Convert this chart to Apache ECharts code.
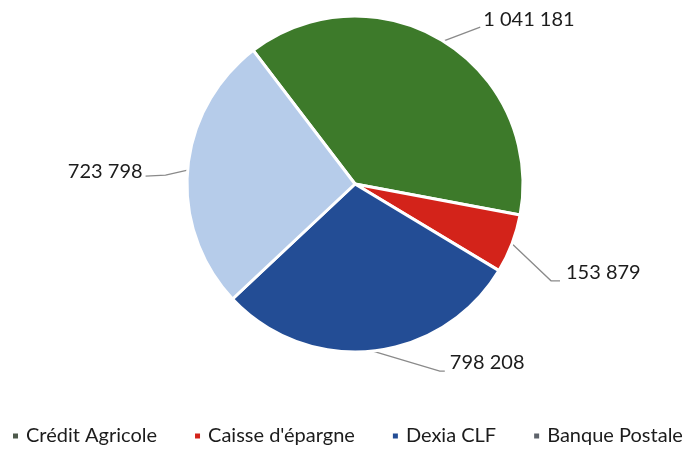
<!DOCTYPE html>
<html>
<head>
<meta charset="utf-8">
<script src="https://cdn.jsdelivr.net/npm/echarts@6/dist/echarts.min.js"></script>
<style>html,body{margin:0;padding:0;background:#fff}#c{width:684px;height:450px}</style>
</head>
<body>
<div id="c"></div>
<script>
const categories = ['Crédit Agricole', "Caisse d'épargne", 'Dexia CLF', 'Banque Postale'];
const values = [1041181, 153879, 798208, 723798];
const colors = ['#3D7A2A', '#D3231A', '#234D95', '#B6CCEA'];
const legendColors = ['#4E5A4C', '#D3231A', '#234D95', '#5E636B'];

// label placement offsets relative to the leader line start (style only)
const labelOffsets = [
  {line: [[37, -14]], text: [40, -21], align: 'left'},
  {line: [[39, 37], [48, 37]], text: [54, 29], align: 'left'},
  {line: [[67, 20], [72, 20]], text: [77, 11], align: 'left'},
  {line: [[-22, 5], [-42, 6]], text: [-45, 1], align: 'right'}
];

function fmt(v) { return String(v).replace(/\B(?=(\d{3})+(?!\d))/g, ' '); }

const chart = echarts.init(document.getElementById('c'));
chart.setOption({
  animation: false,
  color: colors,
  legend: {
    bottom: 4,
    left: 11,
    width: 684,
    padding: 0,
    icon: 'rect',
    itemWidth: 7,
    itemHeight: 7,
    itemGap: 36,
    textStyle: {fontFamily: 'Lato', fontSize: 20, color: '#1c1c1c', padding: [0, 0, 0, 2]},
    data: categories.map((c, i) => ({name: c, itemStyle: {color: legendColors[i]}}))
  },
  series: [{
    type: 'pie',
    center: [355, 184],
    radius: 168,
    startAngle: 127.3,
    clockwise: true,
    avoidLabelOverlap: false,
    itemStyle: {borderColor: '#fff', borderWidth: 3},
    label: {
      show: true,
      position: 'outside',
      formatter: p => fmt(p.value),
      fontFamily: 'Lato',
      fontSize: 20,
      color: '#1c1c1c'
    },
    labelLine: {show: true, length: 10, length2: 10, lineStyle: {color: '#8a8a8a', width: 1.3}},
    labelLayout: function (params) {
      const o = labelOffsets[params.dataIndex];
      const p0 = params.labelLinePoints ? params.labelLinePoints[0] : [0, 0];
      const pts = [p0].concat(o.line.map(d => [p0[0] + d[0], p0[1] + d[1]]));
      return {
        x: p0[0] + o.text[0],
        y: p0[1] + o.text[1],
        align: o.align,
        verticalAlign: 'middle',
        labelLinePoints: pts
      };
    },
    data: categories.map((c, i) => ({name: c, value: values[i]}))
  }]
});
</script>
</body>
</html>
